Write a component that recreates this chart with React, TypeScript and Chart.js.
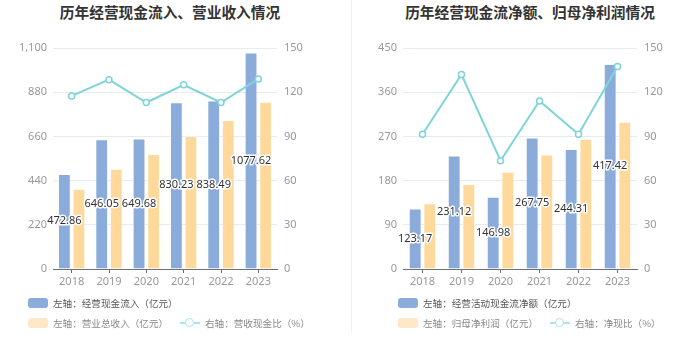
import React, { useEffect, useRef } from "react";
import { Chart, registerables } from "chart.js";
Chart.register(...registerables);

const years = ["2018", "2019", "2020", "2021", "2022", "2023"];
// panel 1
const cashInflow = [472.86, 646.05, 649.68, 830.23, 838.49, 1077.62];
const revenue = [400, 499, 572, 662, 742, 832];
const revenueCashRatio = [117.5, 128.5, 113, 125, 113, 129];
const leftTicks1 = [0, 220, 440, 660, 880, 1100];
const rightTicks1 = [0, 30, 60, 90, 120, 150];
// panel 2
const netCashFlow = [123.17, 231.12, 146.98, 267.75, 244.31, 417.42];
const netProfit = [134, 173, 198, 233, 265, 300];
const netCashRatio = [91.5, 132, 73.5, 114, 91.5, 137.5];
const leftTicks2 = [0, 90, 180, 270, 360, 450];
const rightTicks2 = [0, 30, 60, 90, 120, 150];

const BLUE = "#8babdb";
const ORANGE = "#ffd99b";
const TEAL = "#7dd4d9";
const FONT = "'Noto Sans CJK SC', 'Noto Sans', sans-serif";

const barLabelPlugin = {
  id: "barLabels",
  afterDatasetsDraw(chart: any) {
    const meta = chart.getDatasetMeta(0);
    const ctx = chart.ctx;
    ctx.save();
    ctx.font = "11px 'Noto Sans', sans-serif";
    ctx.textAlign = "center";
    ctx.textBaseline = "middle";
    ctx.lineWidth = 3;
    ctx.lineJoin = "round";
    ctx.strokeStyle = "#fff";
    ctx.fillStyle = "#333";
    meta.data.forEach((el: any, i: number) => {
      const { x, y, base } = el.getProps(["x", "y", "base"], true);
      const v = chart.data.datasets[0].data[i] as number;
      const t = v.toFixed(2);
      const cy = (y + base) / 2;
      ctx.strokeText(t, x, cy);
      ctx.fillText(t, x, cy);
    });
    ctx.restore();
  },
};

type PanelProps = {
  left: number;
  title: string;
  titleCenter: number;
  barA: number[];
  barB: number[];
  line: number[];
  labelA: string;
  labelB: string;
  labelLine: string;
  leftTicks: number[];
  rightTicks: number[];
  leftW: number;
  rightW: number;
  catPct: number;
  legendX: number;
  lineIconX: number;
};

function Panel(p: PanelProps) {
  const ref = useRef<HTMLCanvasElement>(null);
  useEffect(() => {
    if (!ref.current) return;
    const chart = new Chart(ref.current, {
      type: "bar",
      data: {
        labels: years,
        datasets: [
          {
            type: "bar",
            label: p.labelA,
            data: p.barA,
            backgroundColor: BLUE,
            borderColor: "rgba(255,255,255,0.35)",
            borderWidth: 1,
            yAxisID: "y",
            order: 2,
            categoryPercentage: p.catPct,
            barPercentage: 0.88,
          },
          {
            type: "bar",
            label: p.labelB,
            data: p.barB,
            backgroundColor: ORANGE,
            borderColor: "rgba(255,255,255,0.35)",
            borderWidth: 1,
            yAxisID: "y",
            order: 2,
            categoryPercentage: p.catPct,
            barPercentage: 0.88,
          },
          {
            type: "line",
            label: p.labelLine,
            data: p.line,
            borderColor: TEAL,
            borderWidth: 2,
            pointRadius: 3,
            pointBorderWidth: 1.5,
            pointBackgroundColor: "#fff",
            pointBorderColor: TEAL,
            yAxisID: "y1",
            order: 0,
          } as any,
        ],
      },
      options: {
        animation: false,
        responsive: false,
        maintainAspectRatio: false,
        layout: { padding: { top: 48, left: 0, right: 0, bottom: 0 } },
        plugins: { legend: { display: false }, tooltip: { enabled: false }, title: { display: false } },
        scales: {
          x: {
            offset: true,
            grid: { display: true, drawOnChartArea: false, offset: false, tickLength: 4, tickColor: "#6e7079" },
            border: { display: true, color: "#6e7079" },
            ticks: { color: "#999", font: { size: 11, family: "'Noto Sans', sans-serif" }, padding: 2 },
            afterFit: (s: any) => {
              s.height = 31;
            },
          },
          y: {
            position: "left",
            min: p.leftTicks[0],
            max: p.leftTicks[p.leftTicks.length - 1],
            afterBuildTicks: (s: any) => {
              s.ticks = p.leftTicks.map((v) => ({ value: v }));
            },
            grid: { color: "#e6eaf3", drawTicks: false },
            border: { display: false },
            ticks: { color: "#999", font: { size: 11, family: "'Noto Sans', sans-serif" }, padding: 6 },
            afterFit: (s: any) => {
              s.width = p.leftW;
            },
          },
          y1: {
            position: "right",
            min: p.rightTicks[0],
            max: p.rightTicks[p.rightTicks.length - 1],
            afterBuildTicks: (s: any) => {
              s.ticks = p.rightTicks.map((v) => ({ value: v }));
            },
            grid: { display: false, drawTicks: false },
            border: { display: false },
            ticks: { color: "#999", font: { size: 11, family: "'Noto Sans', sans-serif" }, padding: 7 },
            afterFit: (s: any) => {
              s.width = p.rightW;
            },
          },
        },
      },
      plugins: [barLabelPlugin],
    });
    return () => chart.destroy();
  }, []);

  const legendText = { fontFamily: FONT, fontSize: 9.6, whiteSpace: "nowrap" as const };
  return (
    <div style={{ position: "absolute", left: p.left, top: 0, width: 350, height: 360 }}>
      <div
        style={{
          position: "absolute",
          left: p.titleCenter - 175,
          width: 350,
          top: 2,
          textAlign: "center",
          fontFamily: FONT,
          fontWeight: "bold",
          fontSize: 14.7,
          color: "#333",
          lineHeight: "20px",
        }}
      >
        {p.title}
      </div>
      <canvas ref={ref} width={350} height={300} style={{ position: "absolute", left: 0, top: 0 }} />
      {/* legend row 1 */}
      <div style={{ position: "absolute", left: p.legendX, top: 297, height: 12, display: "flex", alignItems: "center" }}>
        <div style={{ width: 20, height: 10, borderRadius: 3, background: BLUE }} />
        <span style={{ ...legendText, color: "#555", marginLeft: 5 }}>{p.labelA}</span>
      </div>
      {/* legend row 2 */}
      <div style={{ position: "absolute", left: p.legendX, top: 317, height: 12, display: "flex", alignItems: "center" }}>
        <div style={{ width: 20, height: 10, borderRadius: 3, background: "#ffe8c7" }} />
        <span style={{ ...legendText, color: "#888", marginLeft: 5 }}>{p.labelB}</span>
      </div>
      <div style={{ position: "absolute", left: p.lineIconX, top: 317, height: 12, display: "flex", alignItems: "center" }}>
        <div style={{ position: "relative", width: 20, height: 12 }}>
          <div style={{ position: "absolute", left: 0, top: 5, width: 20, height: 2, background: "#abe4e7" }} />
          <div
            style={{
              position: "absolute",
              left: 5,
              top: 1,
              width: 7,
              height: 7,
              borderRadius: "50%",
              border: "1.5px solid #abe4e7",
              background: "#fff",
            }}
          />
        </div>
        <span style={{ ...legendText, color: "#888", marginLeft: 5 }}>{p.labelLine}</span>
      </div>
    </div>
  );
}

export default function App() {
  return (
    <div style={{ position: "fixed", left: 0, top: 0, width: 700, height: 360, background: "#fff", overflow: "hidden" }}>
      <Panel
        left={0}
        title="历年经营现金流入、营业收入情况"
        titleCenter={170}
        barA={cashInflow}
        barB={revenue}
        line={revenueCashRatio}
        labelA="左轴：经营现金流入（亿元）"
        labelB="左轴：营业总收入（亿元）"
        labelLine="右轴：营收现金比（%）"
        leftTicks={leftTicks1}
        rightTicks={rightTicks1}
        leftW={53}
        rightW={73}
        catPct={0.78}
        legendX={28}
        lineIconX={180}
      />
      <div style={{ position: "absolute", left: 351, top: 0, width: 1, height: 333, background: "#f0f0f0" }} />
      <Panel
        left={350}
        title="历年经营现金流净额、归母净利润情况"
        titleCenter={180}
        barA={netCashFlow}
        barB={netProfit}
        line={netCashRatio}
        labelA="左轴：经营活动现金流净额（亿元）"
        labelB="左轴：归母净利润（亿元）"
        labelLine="右轴：净现比（%）"
        leftTicks={leftTicks2}
        rightTicks={rightTicks2}
        leftW={53}
        rightW={63}
        catPct={0.75}
        legendX={48}
        lineIconX={200}
      />
    </div>
  );
}
